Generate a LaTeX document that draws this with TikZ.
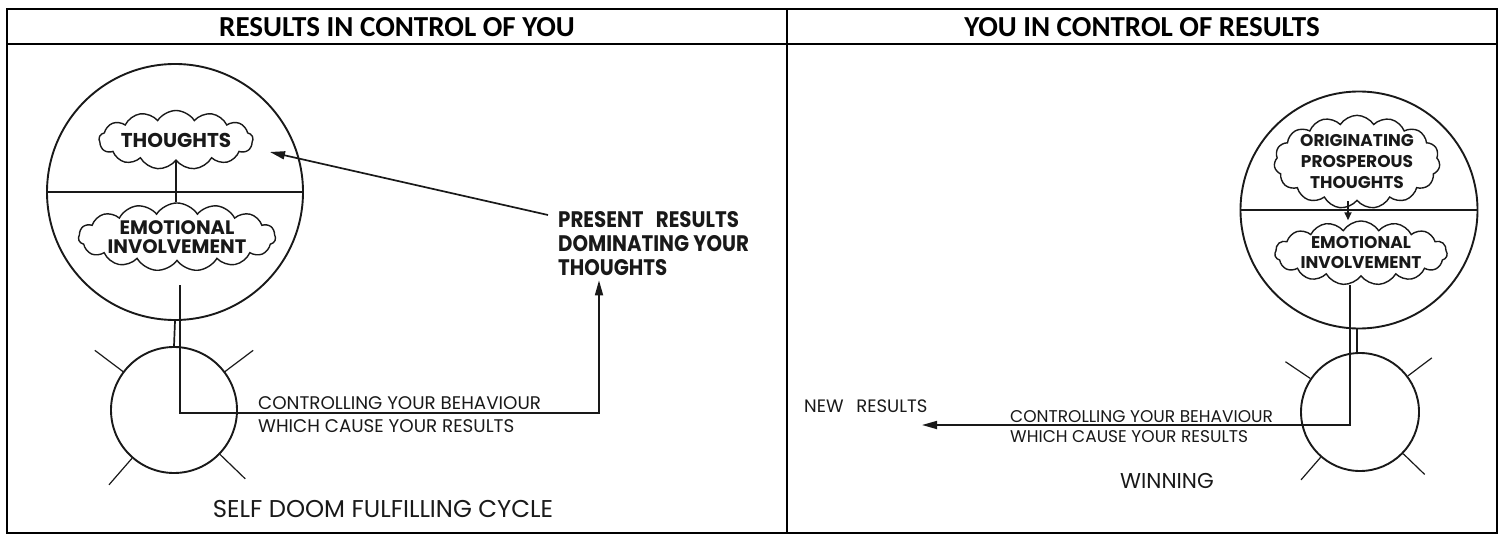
\documentclass[tikz,border=0pt]{standalone}
\usepackage{fontspec}
\setmainfont{Poppins}
\newfontfamily\headfont{Carlito}
\newfontfamily\narrowfont[FakeStretch=0.88]{Poppins}
\usepackage{tikz}
\usetikzlibrary{positioning,arrows.meta,shapes.symbols,calc}
\definecolor{ink}{RGB}{25,25,25}

\begin{document}
\begin{tikzpicture}[x=1pt,y=-1pt,
    tableline/.style={line width=2.6pt,black},
    headtext/.style={font=\headfont\bfseries\fontsize{29}{32}\selectfont,anchor=base,inner sep=0pt},
    mindcircle/.style={circle,draw=ink,line width=1.9pt,inner sep=0pt},
    thoughtcloud/.style={cloud,draw=ink,line width=1.4pt,cloud puffs=13,cloud puff arc=115,
        cloud ignores aspect,inner sep=0pt,align=center,text=ink},
    plainline/.style={draw=ink,line width=1.7pt},
    flowline/.style={plainline,-{Triangle[length=15pt,width=8pt]}},
    handtext/.style={inner sep=0pt,align=left,anchor=base west,text=ink},
    ]
    \useasboundingbox (0,0) rectangle (1502,535);

    % TABLE
    \draw[tableline] (7,9) rectangle (1497,533);
    \draw[tableline] (7,44) -- (1497,44);
    \draw[tableline] (787,9) -- (787,533);
    \node[headtext] (headL) at (397,37) {RESULTS IN CONTROL OF YOU};
    \node[headtext] (headR) at (1142,37) {YOU IN CONTROL OF RESULTS};

    % LEFT - MIND
    \node[mindcircle,minimum size=256] (mindL) at (175,192) {};
    \draw[plainline] (mindL.west) -- (mindL.east);
    \node[thoughtcloud,minimum width=131,minimum height=59,
          font=\bfseries\fontsize{20}{19}\selectfont] (thoughtsL) at (176,140) {THOUGHTS};
    \node[thoughtcloud,minimum width=163,minimum height=68,cloud puffs=15,
          font=\bfseries\fontsize{19.5}{19}\selectfont] (emotionL) at (177,237) {EMOTIONAL\\INVOLVEMENT};
    \draw[plainline] (thoughtsL.south) -- (thoughtsL.south |- emotionL.north);

    % LEFT - BODY
    \node[mindcircle,minimum size=126] (bodyL) at (174,410) {};
    \foreach \a in {143,37,229,316}
        \draw[plainline,line width=1.2pt] (bodyL.\a) -- ($(bodyL.center)!1.55!(bodyL.\a)$);
    \draw[plainline] (mindL.south) -- (bodyL.north);

    % LEFT - TEXTS
    \node[handtext,font=\narrowfont\bfseries\fontsize{22.5}{24}\selectfont] (presL) at (558,275)
        {PRESENT\hspace{8pt} RESULTS\\DOMINATING YOUR\\THOUGHTS};
    \node[handtext,font=\fontsize{18.3}{23}\selectfont] (ctrlL) at (258,432)
        {CONTROLLING YOUR BEHAVIOUR\\WHICH CAUSE YOUR RESULTS};
    \node[inner sep=0pt,anchor=base,text=ink,font=\fontsize{24.3}{26}\selectfont] (selfL) at (383,517)
        {SELF DOOM FULFILLING CYCLE};

    % LEFT - CYCLE
    \coordinate (startL) at (180,285);
    \coordinate (turnL) at (599,413);
    \coordinate (fromPres) at (548,215);
    \coordinate (tipL) at (270,152);
    \draw[flowline] (startL) |- (turnL) -- ([yshift=-5pt]turnL |- presL.south);
    \draw[flowline] (fromPres) -- (tipL);

    % RIGHT - MIND
    \node[mindcircle,minimum size=237] (mindR) at (1359,210) {};
    \draw[plainline] (mindR.west) -- (mindR.east);
    \node[thoughtcloud,minimum width=153,minimum height=84,cloud puffs=15,
          font=\bfseries\fontsize{17}{21}\selectfont] (originR) at (1357,162)
          {ORIGINATING\\PROSPEROUS\\THOUGHTS};
    \node[thoughtcloud,minimum width=151,minimum height=61,cloud puffs=15,
          font=\bfseries\fontsize{17}{20}\selectfont] (emotionR) at (1361,253)
          {EMOTIONAL\\INVOLVEMENT};
    \draw[plainline,-{Triangle[length=8pt,width=7pt]}] ([xshift=-9pt]originR.south)
        -- ([xshift=-9pt]originR.south |- emotionR.north);

    % RIGHT - BODY
    \node[mindcircle,minimum size=118] (bodyR) at (1360,412) {};
    \foreach \a in {146,37,229,316}
        \draw[plainline,line width=1.2pt] (bodyR.\a) -- ($(bodyR.center)!1.5!(bodyR.\a)$);
    \draw[plainline] ([xshift=-2pt]mindR.south) -- ([xshift=-3pt]bodyR.north);

    % RIGHT - TEXTS
    \node[handtext,font=\fontsize{18}{20}\selectfont] (newR) at (804,412) {NEW\hspace{8pt} RESULTS};
    \node[handtext,font=\fontsize{17}{20}\selectfont] (ctrlR) at (1010,442)
        {CONTROLLING YOUR BEHAVIOUR\\WHICH CAUSE YOUR RESULTS};
    \node[inner sep=0pt,anchor=base,text=ink,font=\fontsize{21.5}{24}\selectfont] (winR) at (1167,488)
        {WINNING};

    % RIGHT - CYCLE
    \coordinate (startR) at (1350,285);
    \coordinate (tipR) at (922,425);
    \draw[flowline] (startR) |- (tipR);

\end{tikzpicture}
\end{document}
